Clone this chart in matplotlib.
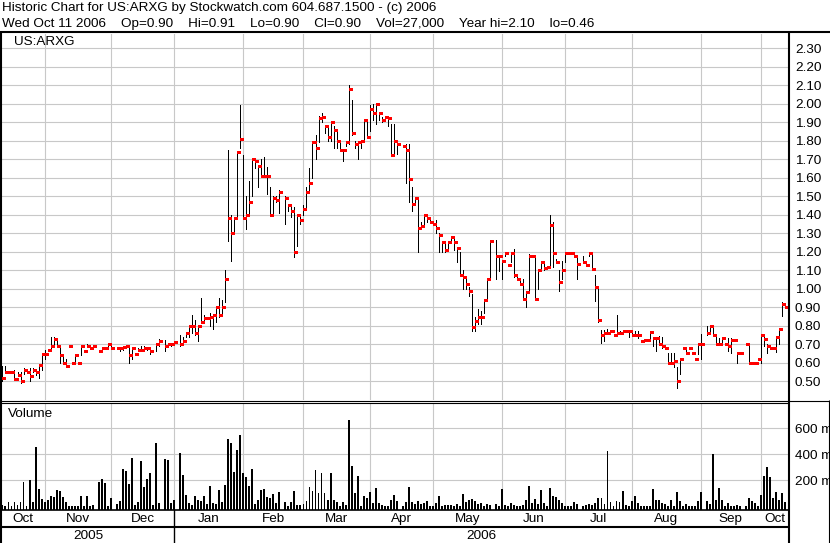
import numpy as np
import pandas as pd
import matplotlib
matplotlib.use('Agg')
import matplotlib.pyplot as plt

W, H = 830, 543
nan = np.nan

# daily bars for US:ARXG, weekdays 12 Oct 2005 .. 11 Oct 2006 (nan = no trade)
high = [
    .58, .58, .55, .55, .56, .55, .55, .57, .56, .57,
    .57, .555, .59, .65, .67, .67, .74, .74, .73, .69,
    .64, .62, .69, .60, .64, .60, .69, .665, .70, .68,
    .69, nan, .665, .68, .68, .70, .70, nan, .68, .685,
    .69, .69, .69, .68, .65, .68, .69, .69, .685, .67,
    nan, .70, .73, nan, .725, .70, .70, .71, nan, .75,
    .74, .76, .80, .86, .83, .80, .95, .86, .84, .87,
    .86, .90, .95, .94, 1.10, 1.75, 1.40, 1.38, 1.74, 1.99,
    1.72, 1.50, 1.58, 1.70, 1.70, 1.67, 1.70, 1.71, 1.66, 1.55,
    1.50, 1.50, 1.535, nan, 1.50, 1.46, 1.44, 1.44, 1.40, 1.40,
    1.455, 1.55, 1.65, 1.80, 1.83, 1.935, 1.95, 1.88, 1.88, 1.90,
    1.88, 1.86, 1.80, 1.75, 1.80, 2.10, 2.02, 1.80, 1.80, 1.80,
    1.91, 1.91, 1.99, 2.00, 2.00, 1.95, 1.93, 1.93, 1.93, 1.89,
    1.89, 1.79, nan, 1.77, 1.78, 1.78, 1.55, 1.49, 1.49, 1.36,
    1.40, 1.40, 1.38, 1.35, 1.37, 1.30, 1.26, 1.25, 1.26, 1.28,
    1.28, 1.22, 1.20, 1.10, 1.065, 1.01, .97, .85, .89, .88,
    .94, 1.05, 1.265, nan, 1.265, 1.175, 1.155, 1.20, 1.13, 1.20,
    1.215, 1.065, 1.05, 1.05, .985, 1.19, 1.175, 1.175, 1.10, 1.15,
    1.145, 1.12, 1.40, 1.36, 1.16, 1.10, 1.15, 1.20, 1.195, 1.195,
    1.195, 1.175, nan, 1.175, 1.15, 1.20, 1.20, 1.075, 1.01, .775,
    .775, .78, .775, .75, .86, .77, .77, .77, .775, .775,
    .77, .77, .715, .725, .725, .765, .735, .735, .745, .74,
    .68, .655, .655, .655, .575, .62, .68, .68, .68, .655,
    .62, .70, .755, nan, .80, .80, .80, .75, .735, .735,
    .70, .735, .735, .725, .655, .655, nan, .70, .695, .60,
    .60, .62, .755, .755, .70, .68, .68, .74, .785, .93,
    .91,
]
low = [
    .50, .55, .55, .55, .51, .535, .49, .54, .55, .50,
    .55, .535, .52, .56, .62, .67, .67, .69, .69, .60,
    .60, .58, .69, .60, .60, .60, .64, .665, .69, .68,
    .69, nan, .665, .68, .68, .68, .68, nan, .68, .665,
    .67, .69, .60, .62, .65, .665, .67, .675, .67, .65,
    nan, .665, .69, nan, .665, .685, .69, .71, nan, .69,
    .71, .74, .74, .76, .75, .72, .82, .83, .84, .80,
    .78, .82, .85, .87, .93, 1.26, 1.15, 1.30, 1.39, 1.76,
    1.38, 1.32, 1.40, 1.50, 1.65, 1.55, 1.61, 1.61, 1.51, 1.40,
    1.40, 1.47, 1.41, nan, 1.35, 1.42, 1.39, 1.17, 1.23, 1.35,
    1.40, 1.44, 1.53, 1.60, 1.70, 1.79, 1.90, 1.84, 1.80, 1.80,
    1.76, 1.76, 1.75, 1.69, 1.77, 1.78, 1.83, 1.76, 1.70, 1.76,
    1.80, 1.82, 1.85, 1.91, 1.89, 1.91, 1.90, 1.91, 1.88, 1.72,
    1.73, 1.73, nan, 1.77, 1.57, 1.47, 1.42, 1.45, 1.20, 1.32,
    1.35, 1.36, 1.36, 1.35, 1.30, 1.20, 1.20, 1.20, 1.22, 1.25,
    1.21, 1.145, 1.075, 1.00, 1.00, .96, .77, .77, .81, .81,
    .87, .94, 1.05, nan, 1.05, 1.095, 1.05, 1.175, 1.13, 1.145,
    1.065, 1.05, 1.025, .945, .90, .99, 1.175, .945, 1.00, 1.095,
    1.10, 1.115, 1.12, 1.12, 1.14, .99, 1.05, 1.145, 1.195, 1.195,
    1.175, 1.05, nan, 1.145, 1.13, 1.175, 1.105, .935, .82, .705,
    .715, .76, .77, .75, .76, .76, .77, .77, .74, .75,
    .75, .735, .715, .725, .725, .725, .69, .665, .70, .68,
    .68, .60, .60, .575, .465, .54, .68, .655, .68, .655,
    .62, .65, .62, nan, .75, .755, .75, .70, .70, .70,
    .70, .665, .655, .725, .60, .655, nan, .70, .60, .60,
    .60, .62, .60, .69, .655, .68, .68, .66, .70, .855,
    .90,
]
close = [
    .52, .55, .55, .55, .51, .535, .50, .56, .55, .53,
    .56, .55, .59, .65, .65, .67, .69, .73, .69, .64,
    .60, .58, .69, .60, .64, .60, .69, .665, .69, .68,
    .69, nan, .665, .68, .68, .70, .68, nan, .68, .68,
    .685, .69, .64, .68, .65, .67, .67, .68, .68, .665,
    nan, .70, .72, nan, .69, .70, .70, .71, nan, .70,
    .72, .76, .80, .80, .76, .80, .82, .84, .84, .85,
    .86, .90, .86, .90, 1.05, 1.38, 1.30, 1.38, 1.74, 1.81,
    1.38, 1.40, 1.47, 1.70, 1.69, 1.665, 1.61, 1.61, 1.61, 1.40,
    1.49, 1.48, 1.52, nan, 1.49, 1.45, 1.42, 1.20, 1.40, 1.37,
    1.43, 1.52, 1.57, 1.79, 1.76, 1.92, 1.93, 1.88, 1.82, 1.90,
    1.86, 1.80, 1.75, 1.75, 1.79, 2.08, 1.84, 1.78, 1.79, 1.80,
    1.91, 1.82, 1.97, 1.95, 2.00, 1.95, 1.91, 1.93, 1.92, 1.72,
    1.80, 1.78, nan, 1.77, 1.75, 1.595, 1.46, 1.49, 1.33, 1.34,
    1.40, 1.38, 1.36, 1.35, 1.33, 1.29, 1.25, 1.21, 1.25, 1.28,
    1.25, 1.22, 1.075, 1.065, 1.025, .99, .795, .825, .85, .85,
    .94, 1.05, 1.26, nan, 1.175, 1.175, 1.15, 1.195, 1.13, 1.195,
    1.075, 1.05, 1.025, .945, .98, 1.175, 1.175, .945, 1.10, 1.145,
    1.11, 1.115, 1.345, 1.195, 1.145, 1.035, 1.10, 1.195, 1.195, 1.195,
    1.175, 1.135, nan, 1.145, 1.13, 1.195, 1.105, 1.01, .83, .75,
    .76, .76, .77, .75, .76, .76, .77, .77, .77, .75,
    .75, .75, .715, .725, .725, .765, .735, .735, .70, .69,
    .68, .60, .60, .61, .50, .62, .68, .655, .68, .655,
    .62, .70, .70, nan, .76, .80, .75, .70, .70, .735,
    .70, .69, .725, .725, .655, .655, nan, .70, .60, .60,
    .60, .62, .75, .73, .69, .68, .68, .74, .785, .915,
    .90,
]
# thousands of shares
volume = [
    3, 0, 26, 0, 31, 3, 26, 179, 0, 195,
    26, 451, 126, 49, 26, 41, 79, 67, 118, 113,
    67, 31, 0, 0, 0, 0, 72, 0, 72, 0,
    3, nan, 185, 203, 174, 0, 56, nan, 15, 33,
    279, 267, 169, 364, 3, 26, 341, 141, 203, 254,
    3, 485, 20, nan, 356, 349, 20, 41, nan, 403,
    236, 82, 20, 3, 72, 41, 36, 72, 15, 151,
    20, 13, 118, 31, 159, 510, 479, 256, 426, 541,
    249, 218, 151, 279, 15, 46, 118, 126, 67, 56,
    87, 23, 108, nan, 31, 0, 26, 115, 3, 3,
    13, 33, 141, 110, 272, 95, 254, 100, 41, 254,
    41, 31, 0, 26, 3, 659, 303, 95, 226, 0,
    79, 56, 103, 20, 133, 20, 3, 0, 0, 46,
    82, 33, nan, 0, 26, 141, 26, 10, 33, 13,
    23, 38, 0, 0, 18, 72, 0, 3, 3, 3,
    0, 10, 0, 90, 26, 44, 49, 36, 10, 18,
    0, 10, 3, nan, 10, 0, 126, 3, 0, 18,
    8, 0, 0, 3, 41, 151, 20, 49, 10, 120,
    23, 0, 133, 79, 64, 41, 18, 0, 0, 0,
    31, 10, nan, 0, 5, 10, 3, 20, 56, 62,
    15, 418, 31, 0, 38, 28, 110, 3, 0, 36,
    74, 20, 0, 0, 0, 0, 126, 44, 44, 18,
    13, 0, 41, 0, 105, 36, 0, 10, 0, 0,
    0, 33, 105, nan, 38, 13, 395, 44, 133, 41,
    0, 18, 0, 0, 3, 0, nan, 0, 56, 36,
    23, 0, 82, 228, 297, 218, 56, 105, 41, 102,
    27,
]
price_ticks = np.round(np.arange(0.50, 2.31, 0.10), 2)
volume_ticks = [200, 400, 600]

header1 = "Historic Chart for US:ARXG by Stockwatch.com 604.687.1500 - (c) 2006"
header2 = ("Wed Oct 11 2006    Op=0.90    Hi=0.91    Lo=0.90    Cl=0.90    "
           "Vol=27,000    Year hi=2.10    lo=0.46")

plt.rcParams['font.family'] = ['Liberation Sans', 'DejaVu Sans']
FS = 9.7
GRID = '#c8c8c8'

dates = pd.bdate_range('2005-10-12', '2006-10-11')
n = len(dates)
assert len(high) == len(low) == len(close) == len(volume) == n
x = np.arange(n)
hi, lo, cl, vol = (np.array(a, dtype=float) for a in (high, low, close, volume))
XLIM = (-0.15, n + 0.3)

# month grid: last trading day on or before the 1st of each month
month_starts = pd.date_range('2005-11-01', '2006-10-01', freq='MS')
grid_x = [int(dates.searchsorted(d, side='right')) - 1 for d in month_starts]
edges = [XLIM[0]] + grid_x + [XLIM[1]]
month_names = [dates[0].strftime('%b')] + [d.strftime('%b') for d in month_starts]
jan_x = grid_x[2]


def box(x0, y0, x1, y1):
    return [x0 / W, 1 - y1 / H, (x1 - x0) / W, (y1 - y0) / H]


fig = plt.figure(figsize=(W / 100, H / 100), dpi=100)
fig.patch.set_facecolor('white')

# price panel
ax_p = fig.add_axes(box(2, 34, 789, 400))
ax_p.set_xlim(*XLIM)
ax_p.set_ylim(0.399, 2.376)
ax_p.vlines(x, lo, hi, colors='black', lw=0.72, zorder=3, antialiased=False)
ax_p.hlines(cl, x, x + 1.0, colors='#ff0000', lw=1.9, zorder=4, antialiased=False)
ax_p.set_xticks(grid_x)
ax_p.set_yticks(price_ticks)
ax_p.set_yticklabels([f'{v:.2f}' for v in price_ticks])
ax_p.yaxis.tick_right()
ax_p.tick_params(axis='y', length=0, pad=4.3, labelsize=FS)
ax_p.tick_params(axis='x', length=0, labelbottom=False)
ax_p.grid(True, color=GRID, lw=0.8, zorder=0)
ax_p.set_axisbelow(True)
ax_p.text(4, 2.335, 'US:ARXG', fontsize=FS, va='center', ha='left')

# volume panel
VFLOOR = -24.6
ax_v = fig.add_axes(box(2, 403, 789, 509.5))
ax_v.set_xlim(*XLIM)
ax_v.set_ylim(VFLOOR, 794)
ok = ~np.isnan(vol)
ax_v.bar(x[ok], vol[ok] - VFLOOR + 4, bottom=VFLOOR, width=0.64, color='black',
         lw=0, zorder=3, antialiased=False)
ax_v.set_xticks(grid_x)
ax_v.set_yticks(volume_ticks)
ax_v.set_yticklabels([f'{v} m' for v in volume_ticks])
ax_v.yaxis.tick_right()
ax_v.tick_params(axis='y', length=0, pad=4.3, labelsize=FS)
ax_v.tick_params(axis='x', length=0, labelbottom=False)
ax_v.grid(True, color=GRID, lw=0.8, zorder=0)
ax_v.set_axisbelow(True)
ax_v.text(0.008, 0.9, 'Volume', transform=ax_v.transAxes, fontsize=FS, va='center', ha='left')

# month row and year row
ax_m = fig.add_axes(box(2, 510, 789, 526.5))
ax_m.set_xlim(*XLIM)
for a, b, name in zip(edges[:-1], edges[1:], month_names):
    ax_m.text((a + b) / 2, 0.45, name, transform=ax_m.get_xaxis_transform(),
              fontsize=FS, ha='center', va='center')
ax_m.axvline(jan_x, color='black', lw=1.0)

ax_y = fig.add_axes(box(2, 528, 789, 543))
ax_y.set_xlim(*XLIM)
year_edges = [XLIM[0], jan_x, XLIM[1]]
for a, b, name in zip(year_edges[:-1], year_edges[1:], ['2005', '2006']):
    ax_y.text((a + b) / 2, 0.45, name, transform=ax_y.get_xaxis_transform(),
              fontsize=FS, ha='center', va='center')
ax_y.axvline(jan_x, color='black', lw=1.0)

for a in (ax_p, ax_v, ax_m, ax_y):
    for s in a.spines.values():
        s.set_visible(False)
for a in (ax_m, ax_y):
    a.set_xticks([])
    a.set_yticks([])
    a.patch.set_alpha(0)

# frame lines and header, in pixel coordinates
ax_o = fig.add_axes([0, 0, 1, 1])
ax_o.set_xlim(0, W)
ax_o.set_ylim(H, 0)
ax_o.axis('off')
ax_o.hlines(32, 0, W, colors='black', lw=1.5)
ax_o.vlines(1, 32, H, colors='black', lw=1.5)
ax_o.vlines(789, 32, H, colors='black', lw=1.5)
ax_o.hlines(400.5, 0, W, colors='black', lw=0.8)
ax_o.hlines(402.5, 0, 789, colors='black', lw=0.8)
ax_o.hlines(509.8, 0, 789, colors='black', lw=1.2)
ax_o.hlines(526.8, 0, 789, colors='black', lw=1.5)
ax_o.vlines(828.5, 400, H, colors='black', lw=0.8)
ax_o.text(2, 8.5, header1, fontsize=FS, va='center', ha='left')
ax_o.text(2, 24, header2, fontsize=FS, va='center', ha='left')

fig.savefig('out.png', dpi=100, facecolor='white')
